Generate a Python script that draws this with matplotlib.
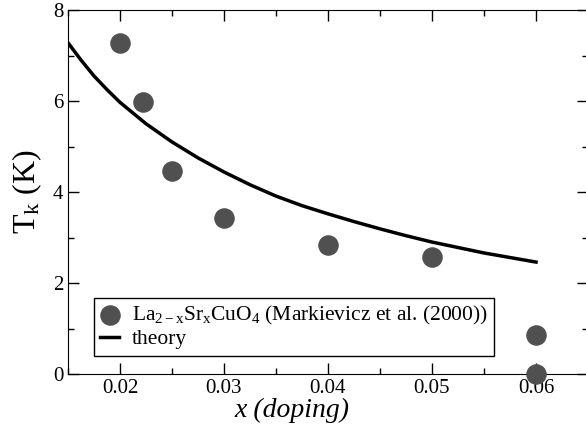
import matplotlib
matplotlib.use('Agg')
import matplotlib.pyplot as plt
from matplotlib.ticker import MultipleLocator

# experimental points (La2-xSrxCuO4, Markievicz et al. 2000)
doping = [0.02, 0.0222, 0.025, 0.03, 0.04, 0.05, 0.06, 0.06]
tk = [7.28, 5.98, 4.46, 3.43, 2.84, 2.57, 0.86, 0.0]

# theory curve
theory_x = [0.015, 0.01625, 0.0175, 0.01875, 0.02, 0.0225, 0.025, 0.0275,
            0.03, 0.0325, 0.035, 0.0375, 0.04, 0.0425, 0.045, 0.0475, 0.05,
            0.0525, 0.055, 0.0575, 0.06]
theory_y = [7.28, 6.90, 6.55, 6.25, 5.97, 5.50, 5.10, 4.75,
            4.44, 4.16, 3.91, 3.70, 3.52, 3.35, 3.19, 3.04, 2.90,
            2.78, 2.66, 2.56, 2.46]

plt.rcParams['font.family'] = ['Liberation Serif', 'DejaVu Serif']
plt.rcParams['mathtext.fontset'] = 'custom'
plt.rcParams['mathtext.rm'] = 'Liberation Serif'
plt.rcParams['mathtext.it'] = 'Liberation Serif:italic'

fig = plt.figure(figsize=(5.86, 4.34), dpi=100)
ax = fig.add_axes([68/586, 60/434, 520/586, 364/434])

ax.plot(theory_x, theory_y, color='black', lw=2.5, label='theory',
        solid_joinstyle='round')
ax.scatter(doping, tk, s=190, color='#505050', zorder=3, clip_on=False,
           label=r'La$_{\mathrm{2-x}}$Sr$_{\mathrm{x}}$CuO$_{\mathrm{4}}$ (Markievicz et al. (2000))')

ax.set_xlim(0.015, 0.065)
ax.set_ylim(0, 8)
ax.xaxis.set_major_locator(MultipleLocator(0.01))
ax.xaxis.set_minor_locator(MultipleLocator(0.005))
ax.yaxis.set_major_locator(MultipleLocator(2))
ax.yaxis.set_minor_locator(MultipleLocator(1))
ax.tick_params(which='both', direction='in', top=True, right=True, labelsize=15)
ax.tick_params(which='major', length=8, width=1)
ax.tick_params(which='minor', length=4, width=1)
ax.set_xticks([0.02, 0.03, 0.04, 0.05, 0.06])
ax.set_xticklabels(['0.02', '0.03', '0.04', '0.05', '0.06'])

ax.set_xlabel('x (doping)', fontsize=20, style='italic', labelpad=2)
ax.xaxis.set_label_coords(0.43, -0.065)
ax.set_ylabel(r'T$_\mathrm{k}$ (K)', fontsize=23, labelpad=6)

handles, labels = ax.get_legend_handles_labels()
leg = ax.legend(handles[::-1], labels[::-1], loc='lower left',
                bbox_to_anchor=(0.05, 0.05), borderaxespad=0, fontsize=15.5,
                fancybox=False, edgecolor='black', framealpha=1,
                handlelength=0.85, handletextpad=0.6, borderpad=0.3,
                labelspacing=0.1)
leg.get_frame().set_linewidth(1)

plt.savefig('out.png', dpi=100)
plt.close()
